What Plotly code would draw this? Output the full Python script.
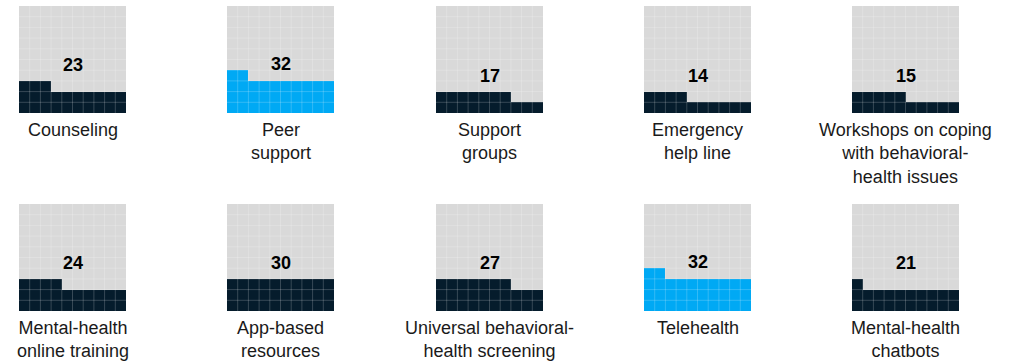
import math
import plotly.graph_objects as go

# Share of respondents (%) per support offering, shown as 10x10 waffles
categories = [
    "Counseling",
    "Peer<br>support",
    "Support<br>groups",
    "Emergency<br>help line",
    "Workshops on coping<br>with behavioral-<br>health issues",
    "Mental-health<br>online training",
    "App-based<br>resources",
    "Universal behavioral-<br>health screening",
    "Telehealth",
    "Mental-health<br>chatbots",
]
values = [23, 32, 17, 14, 15, 24, 30, 27, 32, 21]
highlighted = [False, True, False, False, False, False, False, False, True, False]

EMPTY = "#d9d9d9"
DARK = "#051c2c"
BLUE = "#00a9f4"
FONT = "Liberation Sans, Arial, sans-serif"

W, H = 1015, 362
grid_left = [19, 227, 436, 644, 852]
grid_size = 107
row_top = [6, 204]

fig = go.Figure()

for k, (name, val, hi) in enumerate(zip(categories, values, highlighted)):
    r, c = divmod(k, 5)
    ax = "" if k == 0 else str(k + 1)
    x0 = grid_left[c]
    y0 = row_top[r]
    fig.layout["xaxis" + ax] = dict(
        domain=[x0 / W, (x0 + grid_size) / W], range=[-0.5, 9.5],
        visible=False, fixedrange=True,
    )
    fig.layout["yaxis" + ax] = dict(
        domain=[1 - (y0 + grid_size) / H, 1 - y0 / H], range=[-0.5, 9.5],
        visible=False, fixedrange=True,
    )
    # cells fill from the bottom row, left to right
    z = [[1 if row * 10 + col < val else 0 for col in range(10)] for row in range(10)]
    fill = BLUE if hi else DARK
    fig.add_trace(go.Heatmap(
        z=z, x=list(range(10)), y=list(range(10)),
        colorscale=[[0, EMPTY], [0.5, EMPTY], [0.5, fill], [1, fill]],
        zmin=0, zmax=1, showscale=False, hoverinfo="skip",
        xaxis="x" + ax, yaxis="y" + ax,
    ))
    # faint cell separators
    for i in range(1, 10):
        p = i - 0.5
        fig.add_shape(type="line", xref="x" + ax, yref="y" + ax,
                      x0=p, x1=p, y0=-0.5, y1=9.5,
                      line=dict(color="rgba(255,255,255,0.2)", width=1))
        fig.add_shape(type="line", xref="x" + ax, yref="y" + ax,
                      x0=-0.5, x1=9.5, y0=p, y1=p,
                      line=dict(color="rgba(255,255,255,0.2)", width=1))
    # value label sitting above the filled cells
    label_y = min(math.ceil(val / 10) + 1.5, 4.6) - 0.5
    fig.add_annotation(
        x=4.5, y=label_y, xref="x" + ax, yref="y" + ax,
        text=f"<b>{val}</b>", showarrow=False,
        font=dict(family=FONT, size=18, color="#000000"),
    )
    # category name under the grid
    fig.add_annotation(
        x=4.5, y=-0.5, xref="x" + ax, yref="y" + ax,
        text=name, showarrow=False, yanchor="top", yshift=-5,
        align="center",
        font=dict(family=FONT, size=18, color="#1a1a1a"),
    )

fig.update_layout(
    width=W, height=H,
    margin=dict(l=0, r=0, t=0, b=0),
    paper_bgcolor="white", plot_bgcolor="white",
    showlegend=False,
)

fig.write_html("out.html")
